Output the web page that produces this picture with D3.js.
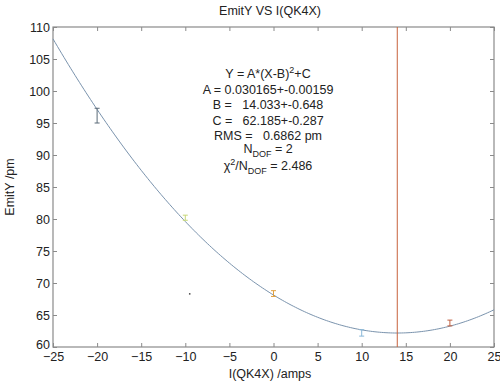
<!DOCTYPE html>
<html>
<head>
<meta charset="utf-8">
<script src="https://cdn.jsdelivr.net/npm/d3@7/dist/d3.min.js"></script>
<style>
  body { margin: 0; background: #fff; }
  text { font-family: "Liberation Sans", Arial, sans-serif; fill: #222; }
</style>
</head>
<body>
<svg id="chart" width="500" height="381"></svg>
<script>
// Measured emittance vs. quadrupole current
const currents   = [-20, -10, 0, 10, 20];
const emitY      = [96.2, 80.2, 68.3, 62.2, 63.7];
const emitErrLo  = [1.2, 0.4, 0.4, 0.5, 0.4];
const emitErrHi  = [1.1, 0.4, 0.5, 0.5, 0.5];
const pointColors = ["#5a6a78", "#c8d878", "#e0a040", "#8ab8d8", "#c06040"];
const strayX = [-9.5];
const strayY = [68.3];

// Parabolic fit Y = A*(X-B)^2 + C
const fitA = 0.030165, fitB = 14.033, fitC = 62.185;

const xTicks = [-25, -20, -15, -10, -5, 0, 5, 10, 15, 20, 25];
const yTicks = [60, 65, 70, 75, 80, 85, 90, 95, 100, 105, 110];

const svg = d3.select("#chart");
const L = 53, R = 494, T = 27, B = 347;
const x = d3.scaleLinear().domain([-25, 25]).range([L, R]);
const y = d3.scaleLinear().domain([60, 110]).range([B, T]);
const axisColor = "#8a8a8a";

// Axes with inward ticks on all four sides
const tl = 4;
svg.append("g").attr("transform", `translate(0,${B})`)
  .call(d3.axisBottom(x).tickValues(xTicks).tickSize(-tl).tickPadding(5).tickFormat(d3.format("d")))
  .call(g => { g.select(".domain").remove(); g.selectAll("line").attr("stroke", axisColor);
               g.selectAll("text").attr("font-size", 12.5).style("font-family", "Liberation Sans, Arial, sans-serif").attr("fill", "#222"); });
svg.append("g").attr("transform", `translate(${L},0)`)
  .call(d3.axisLeft(y).tickValues(yTicks).tickSize(-tl).tickPadding(3).tickFormat(d3.format("d")))
  .call(g => { g.select(".domain").remove(); g.selectAll("line").attr("stroke", axisColor);
               g.selectAll("text").attr("font-size", 12.5).style("font-family", "Liberation Sans, Arial, sans-serif").attr("fill", "#222");
               // lift the bottom label clear of the x tick labels
               g.selectAll(".tick").filter(d => d === 60).select("text").attr("y", -3); });
svg.append("g").attr("transform", `translate(0,${T})`)
  .call(d3.axisTop(x).tickValues(xTicks).tickSize(-tl).tickFormat(""))
  .call(g => { g.select(".domain").remove(); g.selectAll("line").attr("stroke", axisColor); });
svg.append("g").attr("transform", `translate(${R},0)`)
  .call(d3.axisRight(y).tickValues(yTicks).tickSize(-tl).tickFormat(""))
  .call(g => { g.select(".domain").remove(); g.selectAll("line").attr("stroke", axisColor); });

// Frame
svg.append("rect").attr("x", L).attr("y", T).attr("width", R - L).attr("height", B - T)
  .attr("fill", "none").attr("stroke", axisColor).attr("stroke-width", 1.2);

// Fitted parabola
const fitX = d3.range(-25, 25.001, 0.25);
svg.append("path")
  .datum(fitX)
  .attr("fill", "none").attr("stroke", "#7a93ad").attr("stroke-width", 1)
  .attr("d", d3.line().x(d => x(d)).y(d => y(fitA * (d - fitB) ** 2 + fitC)));

// Minimum marker
svg.append("line").attr("x1", x(fitB)).attr("x2", x(fitB)).attr("y1", T).attr("y2", B)
  .attr("stroke", "#c8623c").attr("stroke-width", 1);

// Error bars
const cap = 2.5;
currents.forEach((c, i) => {
  const g = svg.append("g").attr("stroke", pointColors[i]).attr("stroke-width", 1);
  const yl = y(emitY[i] - emitErrLo[i]), yh = y(emitY[i] + emitErrHi[i]);
  g.append("line").attr("x1", x(c)).attr("x2", x(c)).attr("y1", yl).attr("y2", yh);
  g.append("line").attr("x1", x(c) - cap).attr("x2", x(c) + cap).attr("y1", yl).attr("y2", yl);
  g.append("line").attr("x1", x(c) - cap).attr("x2", x(c) + cap).attr("y1", yh).attr("y2", yh);
});
svg.selectAll(".stray").data(strayX).enter().append("rect")
  .attr("x", (d) => x(d) - 0.75).attr("y", (d, i) => y(strayY[i]) - 0.75)
  .attr("width", 1.5).attr("height", 1.5).attr("fill", "#444");

// Titles
svg.append("text").attr("x", 270).attr("y", 15).attr("text-anchor", "middle").attr("font-size", 12.5).text("EmitY VS I(QK4X)");
svg.append("text").attr("x", 270).attr("y", 378).attr("text-anchor", "middle").attr("font-size", 12.5).text("I(QK4X) /amps");
svg.append("text").attr("transform", `translate(14,${(T + B) / 2}) rotate(-90)`).attr("text-anchor", "middle").attr("font-size", 12.5).text("EmitY /pm");

// Fit summary
const cx = 268;
const fs = 12.5;
const t1 = svg.append("text").attr("x", cx).attr("y", 78).attr("text-anchor", "middle").attr("font-size", fs);
t1.append("tspan").text("Y = A*(X-B)");
t1.append("tspan").attr("dy", -5).attr("font-size", 9).text("2");
t1.append("tspan").attr("dy", 5).text("+C");
svg.append("text").attr("x", cx).attr("y", 94).attr("text-anchor", "middle").attr("font-size", fs).text("A = 0.030165+-0.00159");
svg.append("text").attr("x", cx).attr("y", 109).attr("text-anchor", "middle").attr("font-size", fs).attr("xml:space", "preserve").text("B =   14.033+-0.648");
svg.append("text").attr("x", cx).attr("y", 125).attr("text-anchor", "middle").attr("font-size", fs).attr("xml:space", "preserve").text("C =   62.185+-0.287");
svg.append("text").attr("x", cx).attr("y", 140).attr("text-anchor", "middle").attr("font-size", fs).attr("xml:space", "preserve").text("RMS =   0.6862 pm");
const t6 = svg.append("text").attr("x", cx).attr("y", 153).attr("text-anchor", "middle").attr("font-size", fs);
t6.append("tspan").text("N");
t6.append("tspan").attr("dy", 4).attr("font-size", 9).text("DOF");
t6.append("tspan").attr("dy", -4).text(" = 2");
const t7 = svg.append("text").attr("x", cx).attr("y", 170).attr("text-anchor", "middle").attr("font-size", fs);
t7.append("tspan").text("χ");
t7.append("tspan").attr("dy", -5).attr("font-size", 9).text("2");
t7.append("tspan").attr("dy", 5).text("/N");
t7.append("tspan").attr("dy", 4).attr("font-size", 9).text("DOF");
t7.append("tspan").attr("dy", -4).text(" = 2.486");
</script>
</body>
</html>
